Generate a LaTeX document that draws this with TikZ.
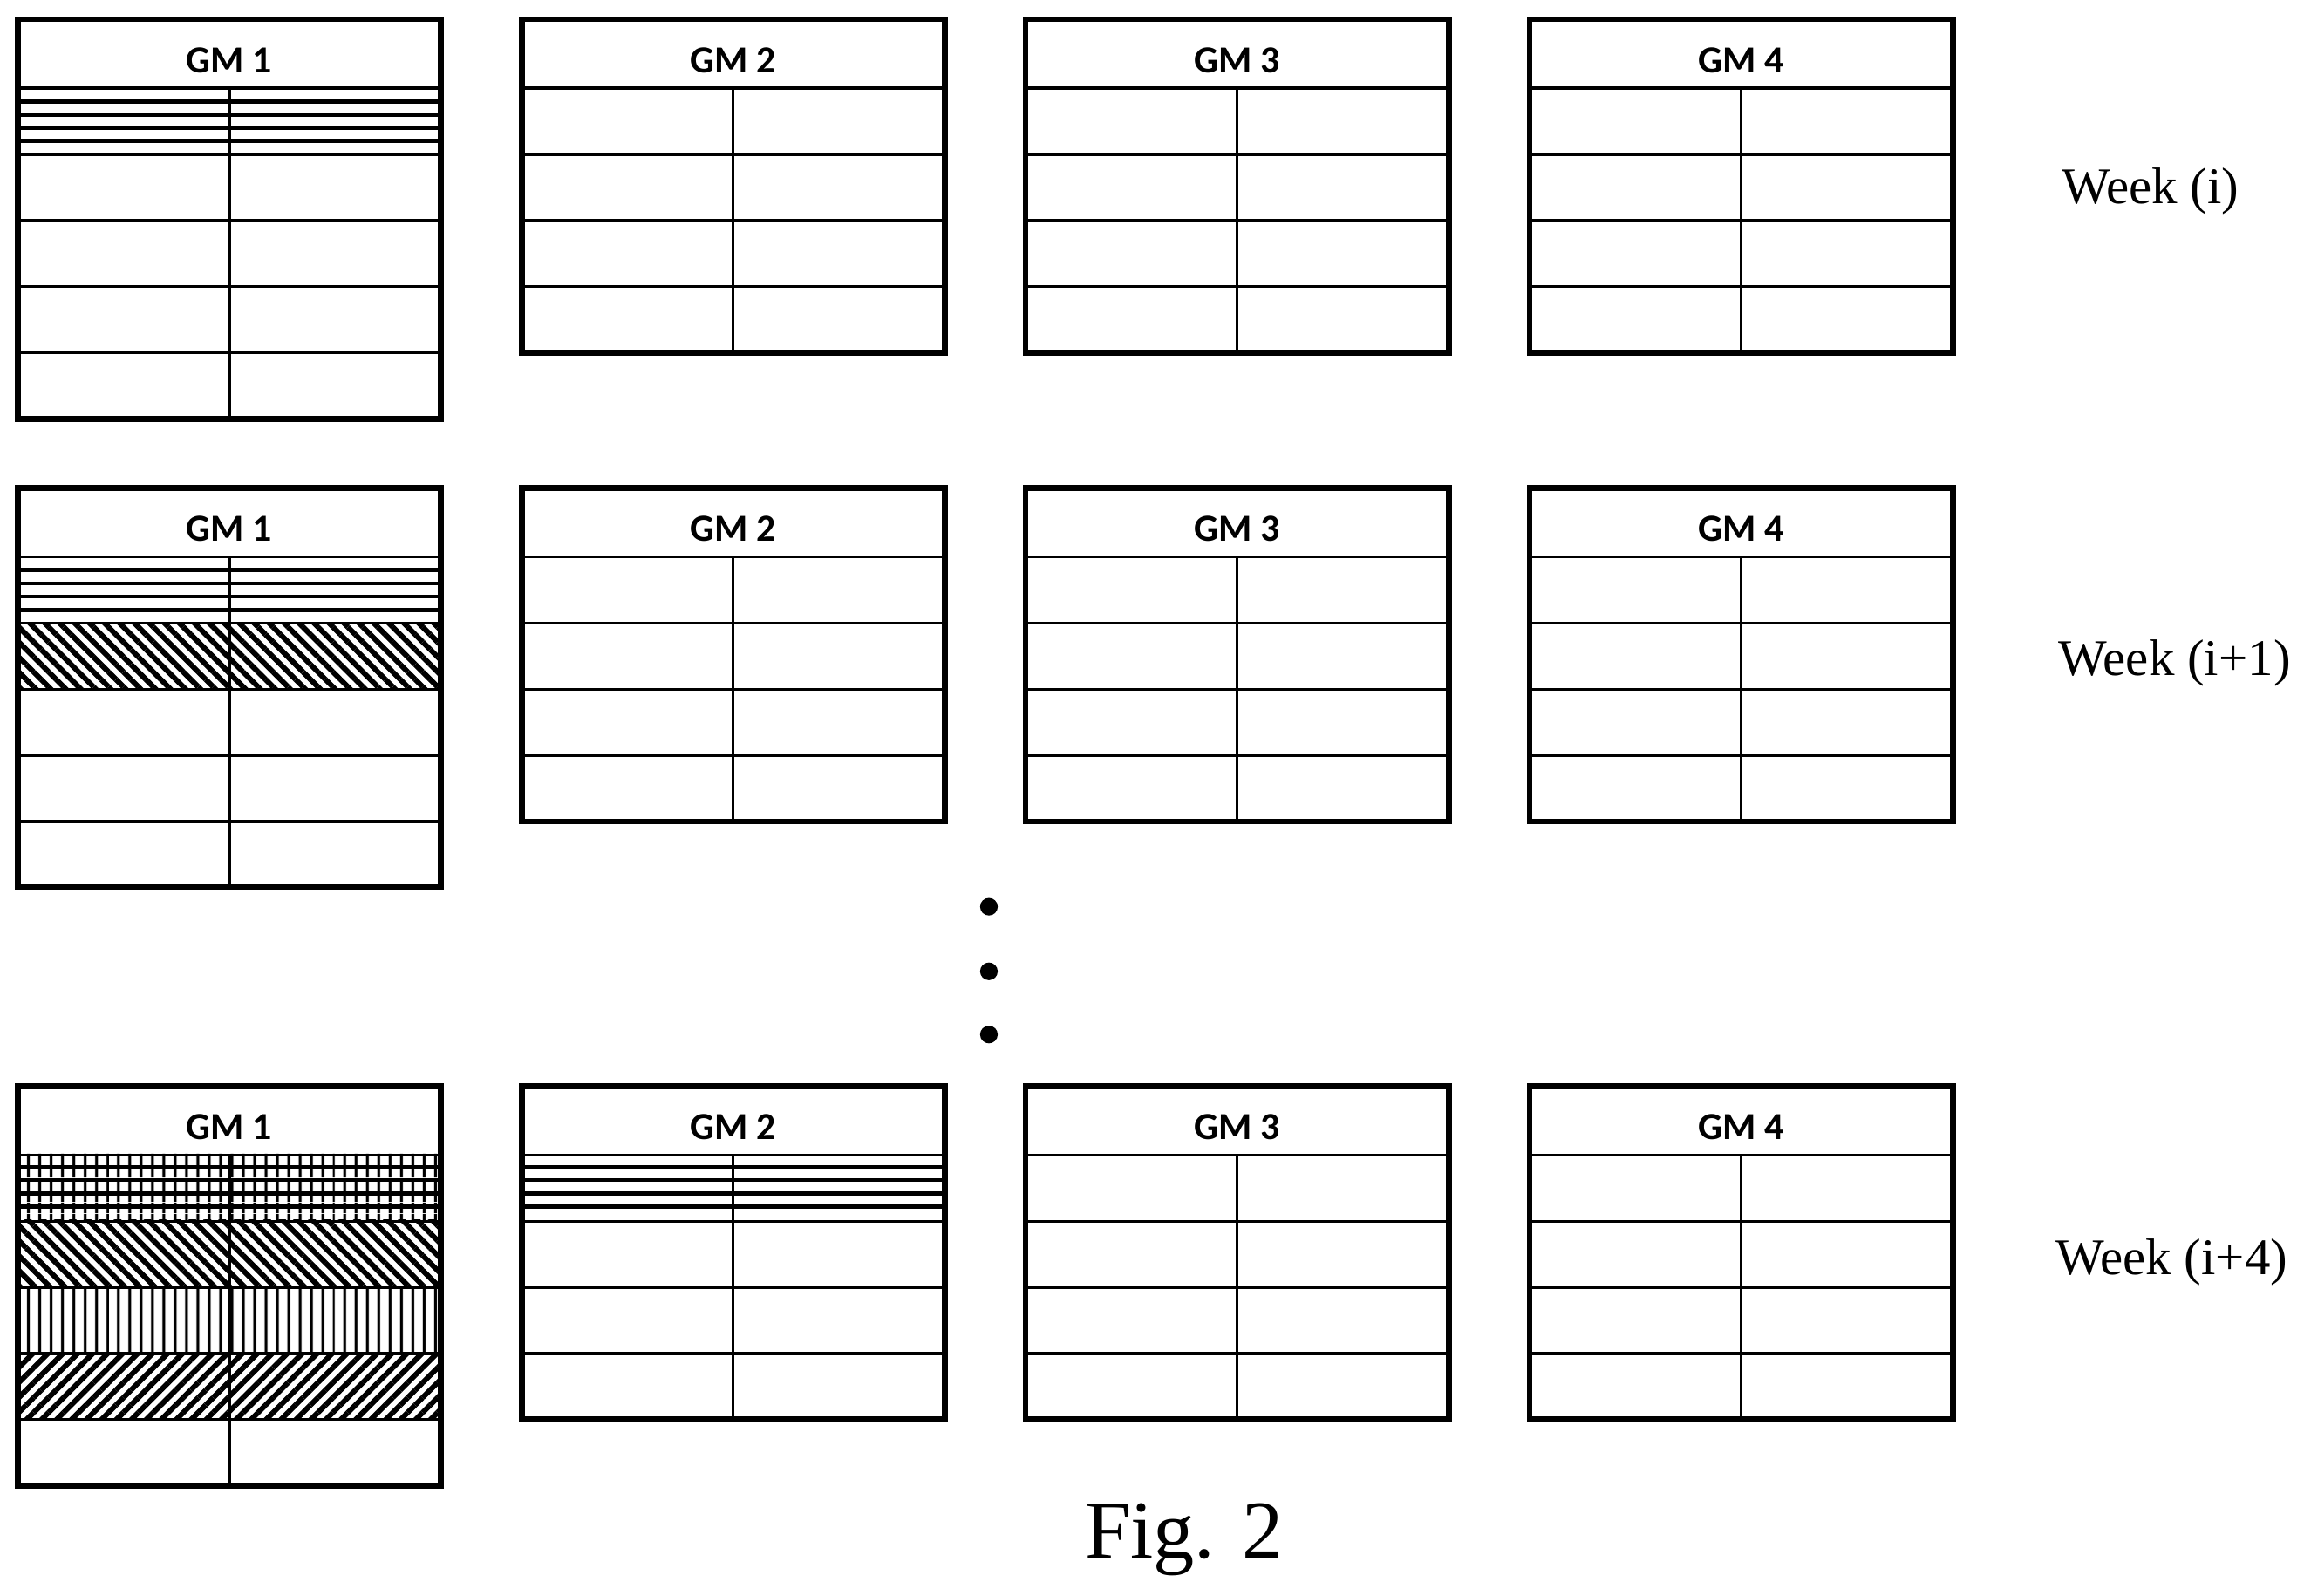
\documentclass[tikz,border=0pt]{standalone}
\usepackage{fontspec}
\setmainfont{Liberation Serif}
\newfontfamily\gmfont{Carlito}
\usetikzlibrary{positioning}
\usetikzlibrary{patterns.meta}

\tikzset{
  hdr/.style={draw, line width=1pt, minimum width=144pt, minimum height=23.5pt, inner sep=0pt, font=\gmfont\bfseries\fontsize{13}{13}\selectfont},
  frame/.style={line width=2pt},
  cell/.style={line width=1pt},
  strip/.style={line width=1.4pt},
  hatchnw/.style={pattern={Lines[angle=-45,distance=3.6pt,line width=1.8pt]}},
  hatchne/.style={pattern={Lines[angle=45,distance=3.6pt,line width=1.8pt]}},
  vlines/.style={pattern={Lines[angle=90,distance=4pt,line width=1pt]}},
  week/.style={font=\fontsize{17.5}{17.5}\selectfont, anchor=west},
}

% #1 name, #2 left, #3 top, #4 label, #5 number of rows
\newcommand{\gmtable}[5]{%
  \node[hdr] (#1) at (#2+144,#3+23.5) {};
  \node[font=\gmfont\bfseries\fontsize{13}{13}\selectfont] at (#2+144,#3+28) {#4};
  \foreach \k in {1,...,#5} {
    \draw[cell] (#2,#3+47+45*\k) -- (#2+288,#3+47+45*\k);
  }
  \draw[cell] (#2+144,#3+47) -- (#2+144,#3+47+45*#5);
}
\newcommand{\gmframe}[3]{%
  \draw[frame] (#1,#2) rectangle (#1+288,#2+47+45*#3);
}
% thin strips in the first row: #1 left, #2 top of the row
\newcommand{\strips}[2]{%
  \foreach \s in {9,18,27,36} {
    \draw[strip] (#1,#2+\s) -- (#1+288,#2+\s);
  }
}

\begin{document}
\begin{tikzpicture}[x=0.5pt, y=-0.5pt]
  \useasboundingbox (0,0) rectangle (1568,1086);

  % week (i)
  \gmtable{wAa}{12}{13}{GM 1}{5}
  \gmtable{wAb}{355}{13}{GM 2}{4}
  \gmtable{wAc}{698}{13}{GM 3}{4}
  \gmtable{wAd}{1041}{13}{GM 4}{4}
  \strips{12}{60}
  \gmframe{12}{13}{5}
  \foreach \x in {355,698,1041} { \gmframe{\x}{13}{4} }
  \node[week] (weekA) at (1396,130) {Week (i)};

  % week (i+1)
  \fill[hatchnw] (12,424) rectangle (300,469);
  \gmtable{wBa}{12}{332}{GM 1}{5}
  \gmtable{wBb}{355}{332}{GM 2}{4}
  \gmtable{wBc}{698}{332}{GM 3}{4}
  \gmtable{wBd}{1041}{332}{GM 4}{4}
  \strips{12}{379}
  \gmframe{12}{332}{5}
  \foreach \x in {355,698,1041} { \gmframe{\x}{332}{4} }
  \node[week] (weekB) at (1394,451) {Week (i+1)};

  % dots
  \foreach \y/\n in {617/dA,661/dB,704/dC} {
    \fill (673,\y) circle (6) coordinate (\n);
  }

  % week (i+4)
  \fill[vlines] (12,785) rectangle (300,830);
  \fill[hatchnw] (12,830) rectangle (300,876);
  \fill[vlines] (12,876) rectangle (300,921);
  \fill[hatchne] (12,921) rectangle (300,966);
  \gmtable{wCa}{12}{739}{GM 1}{5}
  \gmtable{wCb}{355}{739}{GM 2}{4}
  \gmtable{wCc}{698}{739}{GM 3}{4}
  \gmtable{wCd}{1041}{739}{GM 4}{4}
  \strips{12}{785}
  \strips{355}{785}
  \gmframe{12}{739}{5}
  \foreach \x in {355,698,1041} { \gmframe{\x}{739}{4} }
  \node[week] (weekC) at (1392,859) {Week (i+4)};

  \node[font=\fontsize{28}{28}\selectfont] (fig) at (806,1048) {Fig. 2};
\end{tikzpicture}
\end{document}
